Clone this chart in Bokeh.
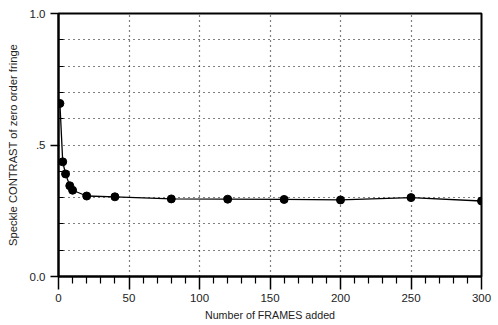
from bokeh.plotting import figure
from bokeh.models import FixedTicker, Range1d
from bokeh.embed import file_html
from bokeh.resources import INLINE

frames = [1, 3, 5, 8, 10, 20, 40, 80, 120, 160, 200, 250, 300]
contrast = [0.658, 0.436, 0.390, 0.345, 0.328, 0.306, 0.303, 0.295, 0.294, 0.293, 0.291, 0.300, 0.287]

x_ticks = [0, 50, 100, 150, 200, 250, 300]
x_minor = [v for v in range(0, 301, 10) if v % 50 != 0]
y_ticks = [0.0, 0.5, 1.0]
y_minor = [0.1, 0.2, 0.3, 0.4, 0.6, 0.7, 0.8, 0.9]
y_labels = {0.0: "0.0", 0.5: ".5", 1.0: "1.0"}

p = figure(width=498, height=325, output_backend="svg", toolbar_location=None,
           x_range=Range1d(0, 300), y_range=Range1d(0, 1),
           min_border_left=58, min_border_right=17, min_border_top=13, min_border_bottom=49)

FONT = "Liberation Sans"
p.outline_line_color = "black"
p.outline_line_width = 2
p.background_fill_color = "white"

# x axis
p.xaxis.ticker = FixedTicker(ticks=x_ticks, minor_ticks=x_minor)
p.xaxis.axis_label = "Number of FRAMES added"
p.xaxis.major_tick_out = 13
p.xaxis.major_tick_in = 0
p.xaxis.minor_tick_out = 7
p.xaxis.minor_tick_in = 0
p.xaxis.major_label_standoff = 4
p.xaxis.axis_label_standoff = 4
p.xaxis.axis_label_text_font_size = "10.7px"

# y axis
p.yaxis.ticker = FixedTicker(ticks=y_ticks, minor_ticks=y_minor)
p.yaxis.major_label_overrides = y_labels
p.yaxis.axis_label = "Speckle CONTRAST of zero order fringe"
p.yaxis.major_tick_out = 8
p.yaxis.major_tick_in = 0
p.yaxis.minor_tick_out = 0
p.yaxis.minor_tick_in = 5
p.yaxis.major_label_standoff = 5
p.yaxis.axis_label_standoff = 8
p.yaxis.axis_label_text_font_size = "11.2px"

for ax in (p.xaxis, p.yaxis):
    ax.axis_line_color = "black"
    ax.axis_line_width = 2
    ax.major_tick_line_color = "black"
    ax.minor_tick_line_color = "black"
    ax.major_tick_line_width = 1.5
    ax.minor_tick_line_width = 1.2
    ax.major_label_text_font = FONT
    ax.major_label_text_font_size = "11.5px"
    ax.major_label_text_color = "#222222"
    ax.axis_label_text_font = FONT
    ax.axis_label_text_font_style = "normal"
    ax.axis_label_text_color = "#222222"

# grids
p.xgrid.ticker = FixedTicker(ticks=[50, 100, 150, 200, 250])
p.xgrid.grid_line_color = "black"
p.xgrid.grid_line_dash = "1 4"
p.xgrid.grid_line_width = 1.2
p.ygrid.ticker = FixedTicker(ticks=[0.1, 0.2, 0.3, 0.4, 0.5, 0.6, 0.7, 0.8, 0.9])
p.ygrid.grid_line_color = "black"
p.ygrid.grid_line_dash = "1 4"
p.ygrid.grid_line_width = 1.2

p.line(frames, contrast, line_color="black", line_width=1.3)
p.scatter(frames, contrast, size=8, fill_color="black", line_color="black")

open("out.html", "w").write(file_html(p, INLINE))
